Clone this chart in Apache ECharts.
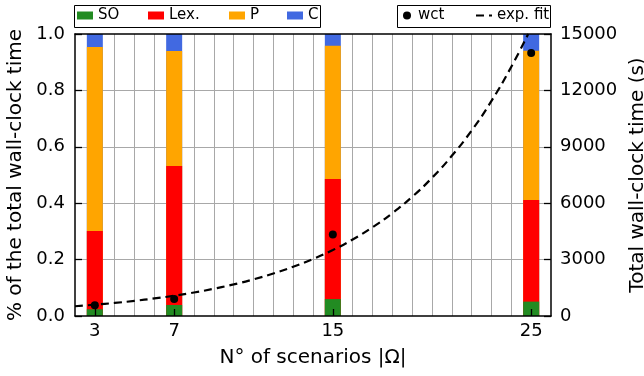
<!DOCTYPE html>
<html>
<head>
<meta charset="utf-8">
<script src="https://cdn.jsdelivr.net/npm/echarts@6/dist/echarts.min.js"></script>
<style>
html,body{margin:0;padding:0;background:#fff;}
#c{width:644px;height:376px;}
</style>
</head>
<body>
<div id="c"></div>
<script>
// ---- data ----
const scenarios = [3, 7, 15, 25];
const xTicks = [3, 7, 15, 25];
const soShare  = [0.024, 0.039, 0.060, 0.051];
const lexShare = [0.277, 0.493, 0.426, 0.360];
const pShare   = [0.653, 0.408, 0.472, 0.530];
const cShare   = [0.046, 0.060, 0.042, 0.059];
const wct = [570, 900, 4330, 13990];
const fitX = [2, 3, 4, 5, 6, 7, 8, 9, 10, 11, 12, 13, 14, 15, 16, 17, 18, 19, 20, 21, 22, 23, 24, 24.85];
const fitY = [520, 600, 695, 805, 935, 1080, 1250, 1450, 1680, 1950, 2260, 2620, 3030, 3510, 4070, 4720, 5470, 6340, 7350, 8520, 9870, 11440, 13260, 15000];

const FONT = 'DejaVu Sans';
const pair = (xs, ys) => xs.map((x, i) => [x, ys[i]]);

// stack tops (the value axis cannot stack by x, so build cumulative tops from the shares)
const shares = [soShare, lexShare, pShare, cShare];
const tops = shares.map((_, k) => scenarios.map((_, i) => shares.slice(0, k + 1).reduce((s, a) => s + a[i], 0)));

const chart = echarts.init(document.getElementById('c'), null, {renderer: 'canvas'});

const barSeries = (name, vals, color, z) => ({
  name, type: 'bar', barWidth: 16, barGap: '-100%',
  xAxisIndex: 0, yAxisIndex: 0,
  itemStyle: {color},
  data: pair(scenarios, vals),
  z
});

const legendItem = (name, left, extra) => Object.assign({
  data: [name], left, top: 8,
  itemWidth: 16, itemHeight: 8, padding: 0,
  selectedMode: false,
  textStyle: {fontFamily: FONT, fontSize: 15, color: '#000'}
}, extra || {});

chart.setOption({
  animation: false,
  backgroundColor: '#fff',
  textStyle: {fontFamily: FONT},
  grid: {left: 75, right: 93, top: 34, bottom: 60, containLabel: false, outerBoundsMode: 'none'},
  legend: [
    legendItem('SO', 77, {icon: 'rect'}),
    legendItem('Lex.', 148, {icon: 'rect'}),
    legendItem('P', 229, {icon: 'rect'}),
    legendItem('C', 287, {icon: 'rect'}),
    legendItem('wct', 403, {icon: 'circle', itemWidth: 12}),
    legendItem('exp. fit', 476, {data: [{name: 'exp. fit', icon: 'path://M0,0H8V2H0ZM13,0H16V2H13Z'}], symbolKeepAspect: true})
  ],
  graphic: [
    {type: 'rect', z: 100, shape: {x: 74.5, y: 5.5, width: 246, height: 22}, style: {fill: 'none', stroke: '#000', lineWidth: 1}},
    {type: 'rect', z: 100, shape: {x: 397.5, y: 5.5, width: 153, height: 22}, style: {fill: 'none', stroke: '#000', lineWidth: 1}}
  ],
  xAxis: [
    {
      type: 'value', position: 'bottom', min: 2, max: 26, interval: 1,
      z: 10,
      name: 'N° of scenarios |Ω|', nameLocation: 'middle', nameGap: 32,
      nameTextStyle: {fontFamily: FONT, fontSize: 20, color: '#000'},
      axisLine: {show: true, lineStyle: {color: '#000', width: 1.5}},
      axisTick: {show: true, inside: true, length: 7, customValues: xTicks, lineStyle: {color: '#000', width: 1.3}},
      axisLabel: {show: true, customValues: xTicks, margin: 6, fontFamily: FONT, fontSize: 18, color: '#000'},
      splitLine: {show: false}
    },
    {
      type: 'value', position: 'bottom', min: 2, max: 26, interval: 1,
      z: 0,
      axisLine: {show: false}, axisTick: {show: false}, axisLabel: {show: false},
      splitLine: {show: true, showMinLine: false, showMaxLine: false, lineStyle: {color: '#a8a8a8', width: 1}}
    },
    {
      type: 'value', position: 'top', min: 2, max: 26, interval: 1,
      z: 10,
      axisLine: {show: true, onZero: false, lineStyle: {color: '#000', width: 1.5}},
      axisTick: {show: false}, axisLabel: {show: false}, splitLine: {show: false}
    }
  ],
  yAxis: [
    {
      type: 'value', position: 'left', min: 0, max: 1, interval: 0.2,
      name: '% of the total wall-clock time', nameLocation: 'middle', nameGap: 49, nameRotate: 90,
      nameTextStyle: {fontFamily: FONT, fontSize: 20, color: '#000'},
      axisLine: {show: true, lineStyle: {color: '#000', width: 1.5}},
      axisTick: {show: true, inside: true, length: 7, lineStyle: {color: '#000', width: 1.3}},
      axisLabel: {margin: 10, fontFamily: FONT, fontSize: 18, color: '#000', formatter: v => v.toFixed(1)},
      splitLine: {show: true, showMinLine: false, showMaxLine: false, lineStyle: {color: '#a8a8a8', width: 1}}
    },
    {
      type: 'value', position: 'right', min: 0, max: 15000, interval: 3000,
      name: 'Total wall-clock time (s)', nameLocation: 'middle', nameGap: 69, nameRotate: 90,
      nameTextStyle: {fontFamily: FONT, fontSize: 20, color: '#000'},
      axisLine: {show: true, lineStyle: {color: '#000', width: 1.5}},
      axisTick: {show: true, inside: true, length: 7, lineStyle: {color: '#000', width: 1.3}},
      axisLabel: {margin: 9, fontFamily: FONT, fontSize: 18, color: '#000', formatter: v => String(v)},
      splitLine: {show: false}
    }
  ],
  series: [
    barSeries('C', tops[3], '#4169E1', 2),
    barSeries('P', tops[2], '#FFA500', 3),
    barSeries('Lex.', tops[1], '#FF0000', 4),
    barSeries('SO', tops[0], '#228B22', 5),
    {
      name: 'exp. fit', type: 'line', xAxisIndex: 0, yAxisIndex: 1,
      data: pair(fitX, fitY), smooth: true, showSymbol: false, symbol: 'none',
      lineStyle: {color: '#000', width: 2.2, type: [8, 5]},
      itemStyle: {color: '#000'},
      z: 7
    },
    {
      name: 'wct', type: 'scatter', xAxisIndex: 0, yAxisIndex: 1,
      data: pair(scenarios, wct), symbol: 'circle', symbolSize: 8,
      itemStyle: {color: '#000', opacity: 1},
      z: 8
    }
  ]
});
</script>
</body>
</html>
